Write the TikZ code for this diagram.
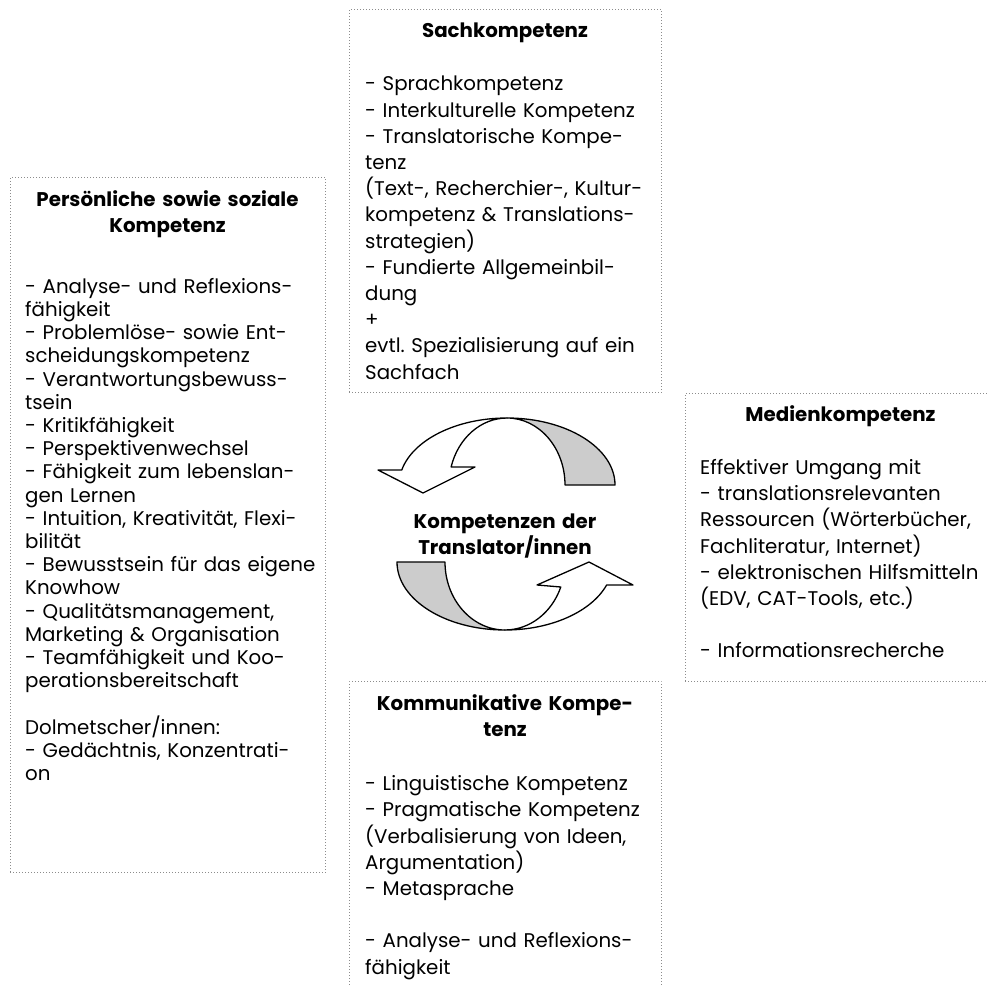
\documentclass[tikz,border=0pt]{standalone}
\usepackage{fontspec}
\setmainfont{Poppins}
\begin{document}
\hyphenpenalty=10000
\frenchspacing
\begin{tikzpicture}[x=1pt,y=1pt,
  box/.style={draw=black!45, line width=0.9pt, dash pattern=on 0.9pt off 2.1pt, inner sep=0pt, anchor=north west},
  ttl/.style={font=\bfseries\fontsize{19.8}{26}\selectfont, align=center, inner sep=0pt, anchor=north, text width=#1},
  bdy/.style={font=\fontsize{19.8}{26.2}\selectfont, align=left, inner sep=0pt, anchor=north west, text width=#1},
  bdytight/.style={font=\fontsize{19.8}{23.2}\selectfont, align=left, inner sep=0pt, anchor=north west, text width=#1},
  ctr/.style={font=\bfseries\fontsize{19.8}{22}\selectfont, align=center, inner sep=0pt, anchor=north, text width=220pt},
  arr/.style={draw=black, line width=1.3pt, line join=round}]
\useasboundingbox (0,0) rectangle (986,-987);

% boxes
\node[box, minimum width=312pt, minimum height=383pt] (sachbox) at (349,-9) {};
\node[box, minimum width=315pt, minimum height=695pt] (persbox) at (10,-177) {};
\node[box, minimum width=311pt, minimum height=288pt] (medbox) at (685,-393) {};
\node[box, minimum width=312pt, minimum height=330pt] (kommbox) at (349,-681) {};

% titles
\node[ttl=300pt] (sacht) at (505,-18.8) {\strut Sachkompetenz};
\node[ttl=300pt] (perst) at (167.5,-188.5) {\strut Pers\"onliche sowie soziale\\ Kompetenz};
\node[ttl=290pt] (medt) at (840.5,-403.5) {\strut Medienkompetenz};
\node[ttl=300pt] (kommt) at (505,-691.8) {\strut Kommunikative Kompe-\\ tenz};

% bodies
\node[bdy=300pt] (sachb) at (365,-72.4) {\strut - Sprachkompetenz\\
- Interkulturelle Kompetenz\\
- Translatorische Kompe-\\
tenz\\
(Text-, Recherchier-, Kultur-\\
kompetenz \& Translations-\\
strategien)\\
- Fundierte Allgemeinbil-\\
dung\\
+\\
evtl. Spezialisierung auf ein\\
Sachfach};

\node[bdytight=305pt] (persb) at (25,-276.8) {\strut - Analyse- und Reflexions-\\
f\"ahigkeit\\
- Probleml\"ose- sowie Ent-\\
scheidungskompetenz\\
- Verantwortungsbewuss-\\
tsein\\
- Kritikf\"ahigkeit\\
- Perspektivenwechsel\\
- F\"ahigkeit zum lebenslan-\\
gen Lernen\\
- Intuition, Kreativit\"at, Flexi-\\
bilit\"at\\
- Bewusstsein f\"ur das eigene\\
Knowhow\\
- Qualit\"atsmanagement,\\
Marketing \& Organisation\\
- Teamf\"ahigkeit und Koo-\\
perationsbereitschaft\\
\mbox{}\\
Dolmetscher/innen:\\
- Ged\"achtnis, Konzentrati-\\
on};

\node[bdy=290pt] (medb) at (700,-455.9) {\strut Effektiver Umgang mit\\
- translationsrelevanten\\
Ressourcen (W\"orterb\"ucher,\\
Fachliteratur, Internet)\\
- elektronischen Hilfsmitteln\\
(EDV, CAT-Tools, etc.)\\
\mbox{}\\
- Informationsrecherche};

\node[bdy=300pt] (kommb) at (365,-772.2) {\strut - Linguistische Kompetenz\\
- Pragmatische Kompetenz\\
(Verbalisierung von Ideen,\\
Argumentation)\\
- Metasprache\\
\mbox{}\\
- Analyse- und Reflexions-\\
f\"ahigkeit};

% centre text
\node[ctr] (centre) at (505,-512.6) {\strut Kompetenzen der\\ Translator/innen};

% upper curved arrow
\filldraw[arr, fill=black!20] (507,-418) arc[start angle=90, end angle=0, x radius=108pt, y radius=67pt]
  -- (565,-485) arc[start angle=0, end angle=90, x radius=58pt, y radius=67pt] -- cycle;
\filldraw[arr, fill=white] (507,-418) arc[start angle=90, end angle=167.1, x radius=108pt, y radius=67pt]
  -- (378,-470) -- (423,-493) -- (475,-467) -- (451.1,-467)
  arc[start angle=164.4, end angle=90, x radius=58pt, y radius=67pt] -- cycle;

% lower curved arrow
\filldraw[arr, fill=black!20] (505,-630) arc[start angle=270, end angle=180, x radius=108pt, y radius=68pt]
  -- (445,-562) arc[start angle=180, end angle=270, x radius=60pt, y radius=68pt] -- cycle;
\filldraw[arr, fill=white] (505,-630) arc[start angle=270, end angle=340.2, x radius=108pt, y radius=68pt]
  -- (633,-585) -- (589,-562) -- (537,-585) -- (560.8,-587)
  arc[start angle=338.4, end angle=270, x radius=60pt, y radius=68pt] -- cycle;
\end{tikzpicture}
\end{document}
